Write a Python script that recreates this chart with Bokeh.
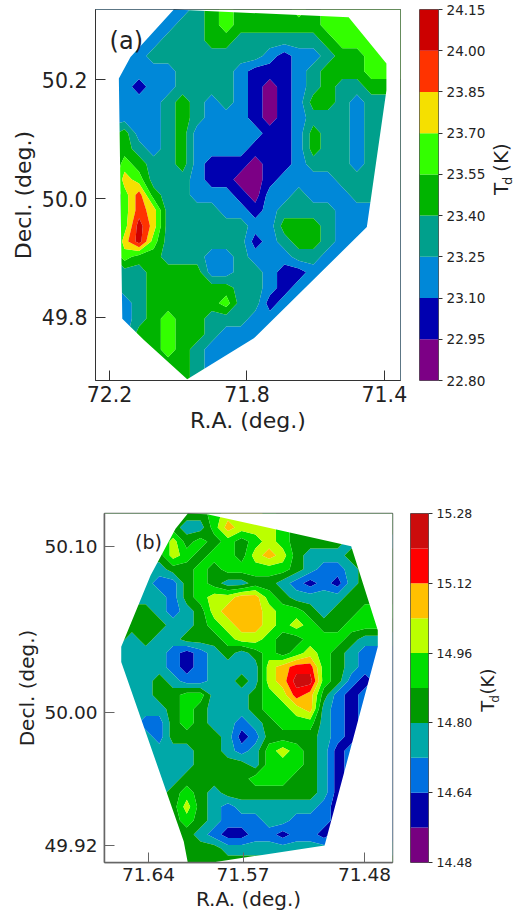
import numpy as np
from bokeh.plotting import figure
from bokeh.layouts import column, row
from bokeh.core.properties import value
from bokeh.models import FixedTicker, NumeralTickFormatter, Range1d, Label
from bokeh.embed import file_html
from bokeh.resources import INLINE

levels_a = [22.80, 22.95, 23.10, 23.25, 23.40, 23.55, 23.70, 23.85, 24.00, 24.15]
colors_a = ["#7c0085", "#0000b0", "#0088d8", "#00a08c", "#00b400", "#33ff00", "#f5e000", "#ff3300", "#cc0000"]
levels_b = [14.48, 14.56, 14.64, 14.72, 14.80, 14.88, 14.96, 15.04, 15.12, 15.20, 15.28]
colors_b = ["#770080", "#0000a8", "#0070e0", "#00a8a8", "#009900", "#00dd00", "#bbff00", "#ffc000", "#ff0000", "#cc0c0c"]

# temperature band at each map position, north to south, east to west
bands_a = [
    "2222222345444454555555",
    "2222223345444444555555",
    "2222233344333333455555",
    "2222333333332122344555",
    "2222223333211123444555",
    "2221223333210123433444",
    "2222234323210124432333",
    "2222234322210123332333",
    "3342234222221124332333",
    "3343234222211124332333",
    "3354334211101123332333",
    "3365333211001222233333",
    "3357433222102232223333",
    "3357633332212333322222",
    "3358633333322444322222",
    "3368533333312344322222",
    "3354433322322233222222",
    "2233444422332112222222",
    "2233444444332122222222",
    "2223444445331222222222",
    "2223454433322222222222",
    "2224454432222222222222",
    "2224454322222222222222",
    "2224444322222222222222",
    "2224444322222222222222",
]
bands_b = [
    "4444444456665444444444",
    "4444443357666544444444",
    "4444464545456544443333",
    "4444465455467643334444",
    "3333344545555543223444",
    "3333224543344321213444",
    "3333324566775433334444",
    "4444323467776554344555",
    "4444433456776565445554",
    "4434334445665445554333",
    "3333321234345456543222",
    "3333321233336788543222",
    "3333432233436799542122",
    "3333445533345687421222",
    "3333345433345567321222",
    "3332245433234555321222",
    "3333244443124444321222",
    "3333333443235654312222",
    "3333333444435554312222",
    "3333334444455544312222",
    "3333345434444444312222",
    "3333346432333333212222",
    "3333345432223322212222",
    "3333344321122122122222",
    "4444444443333333333333",
    "4444444444444444444444",
]

hull_ra_a = [72.013, 71.504, 71.394, 71.394, 71.451, 71.780, 71.974, 72.100, 72.163, 72.173, 72.139]
hull_dec_a = [50.318, 50.305, 50.227, 50.182, 49.952, 49.765, 49.696, 49.762, 49.798, 50.202, 50.238]
hull_ra_b = [71.6109, 71.5965, 71.4899, 71.4702, 71.4702, 71.5096, 71.5904, 71.6109, 71.6139, 71.6602, 71.6602, 71.6385, 71.6200]
hull_dec_b = [50.1200, 50.1196, 50.1003, 50.0497, 50.0397, 49.9201, 49.9101, 49.9097, 49.9225, 50.0306, 50.0397, 50.0827, 50.1108]

xticks_a = [72.2, 71.8, 71.4]
yticks_a = [49.8, 50.0, 50.2]
xticks_b = [71.64, 71.57, 71.48]
yticks_b = [49.92, 50.00, 50.10]
cbticks_b = [14.48, 14.64, 14.80, 14.96, 15.12, 15.28]

FONT = "DejaVu Sans"
INK = "#222222"


def band_grid(rows, levels):
    lv = np.array(levels)
    mid = (lv[:-1] + lv[1:]) / 2
    idx = np.array([[int(c) for c in r] for r in rows])
    return mid[idx]


def map_panel(rows, levels, colors, xr, yr, xticks, yticks, hull_x, hull_y, fmt, w, h, bl, br, bt, bb, tick_px, lab_px, xs, ys, edge, edge_w):
    p = figure(width=w, height=h, x_range=Range1d(*xr), y_range=Range1d(*yr), output_backend="svg",
               toolbar_location=None, min_border_left=bl, min_border_right=br, min_border_top=bt,
               min_border_bottom=bb, outline_line_color=edge, outline_line_width=edge_w)
    p.grid.visible = False
    z = band_grid(rows, levels)
    ny, nx = z.shape
    ra = np.linspace(xr[0], xr[1], nx)[::-1]
    dec = np.linspace(yr[0], yr[1], ny)
    p.contour(ra, dec, z[::-1, ::-1], levels, fill_color=colors, line_color=None)
    outer_x = [xr[0], xr[1], xr[1], xr[0]]
    outer_y = [yr[0], yr[0], yr[1], yr[1]]
    p.multi_polygons(xs=[[[outer_x, hull_x]]], ys=[[[outer_y, hull_y]]], fill_color="white", line_color=None)
    for ax, t, so in ((p.xaxis[0], xticks, xs), (p.yaxis[0], yticks, ys)):
        ax.ticker = FixedTicker(ticks=t)
        ax.formatter = NumeralTickFormatter(format=fmt)
        ax.minor_tick_line_color = None
        ax.major_tick_in = 10
        ax.major_tick_out = 0
        ax.major_tick_line_color = edge
        ax.axis_line_color = edge
        ax.axis_line_width = edge_w
        ax.major_label_text_font = FONT
        ax.major_label_text_font_size = tick_px
        ax.major_label_text_color = INK
        ax.axis_label_text_font = FONT
        ax.axis_label_text_font_style = "normal"
        ax.axis_label_text_font_size = lab_px
        ax.axis_label_text_color = INK
        ax.major_label_standoff = so
        ax.axis_label_standoff = 3
    p.xaxis[0].axis_label = "R.A. (deg.)"
    p.yaxis[0].axis_label = "Decl. (deg.)"
    return p


def colorbar_panel(levels, colors, ticks, w, h, bl, br, bt, bb, tick_px):
    p = figure(width=w, height=h, x_range=Range1d(0, 1), y_range=Range1d(levels[0], levels[-1]),
               output_backend="svg", toolbar_location=None, y_axis_location="right",
               min_border_left=bl, min_border_right=br, min_border_top=bt, min_border_bottom=bb,
               outline_line_color="#555555")
    p.grid.visible = False
    p.xaxis.visible = False
    p.quad(left=0, right=1, bottom=levels[:-1], top=levels[1:], fill_color=colors, line_color=None)
    ax = p.yaxis[0]
    ax.ticker = FixedTicker(ticks=ticks)
    ax.formatter = NumeralTickFormatter(format="0.00")
    ax.minor_tick_line_color = None
    ax.major_tick_in = 0
    ax.major_tick_out = 4
    ax.major_tick_line_color = "#333333"
    ax.axis_line_color = None
    ax.major_label_text_font = FONT
    ax.major_label_text_font_size = tick_px
    ax.major_label_text_color = INK
    ax.major_label_standoff = 4
    return p


def title_strip(w, h, parts):
    p = figure(width=w, height=h, x_range=Range1d(0, w), y_range=Range1d(0, h), output_backend="svg",
               toolbar_location=None, x_axis_location=None, y_axis_location=None, outline_line_color=None,
               min_border_left=0, min_border_right=0, min_border_top=0, min_border_bottom=0)
    p.grid.visible = False
    for txt, x, y, size in parts:
        p.text(x=[x], y=[y], text=[txt], angle=np.pi / 2, text_font=value(FONT), text_font_size=value(size),
               text_color=INK, text_align="left", text_baseline="middle")
    return p


pa = map_panel(bands_a, levels_a, colors_a, (72.241, 71.353), (49.694, 50.318), xticks_a, yticks_a,
               hull_ra_a, hull_dec_a, "0.0", 410, 450, 95, 10, 9, 70, "20.5px", "22px", 5, 8, "#333333", 1)
pa.add_layout(Label(x=72.2, y=50.265, text="(a)", text_font=FONT, text_font_size="24px", text_color=INK,
                    text_align="left", text_baseline="middle"))
ca = colorbar_panel(levels_a, colors_a, levels_a, 80, 450, 9, 52, 9, 70, "13.6px")
sa = title_strip(24, 450, [("T", 10, 225, "20px"), ("d", 17, 237, "13px"), ("(K)", 10, 253, "20px")])

pb = map_panel(bands_b, levels_b, colors_b, (71.6726, 71.4593), (49.9098, 50.12), xticks_b, yticks_b,
               hull_ra_b, hull_dec_b, "0.00", 402, 463, 104, 10, 63, 50, "18.5px", "20px", 5, 7, "#666666", 1.5)
pb.add_layout(Label(x=71.65, y=50.103, text="(b)", text_font=FONT, text_font_size="19px", text_color=INK,
                    text_align="left", text_baseline="middle"))
cb = colorbar_panel(levels_b, colors_b, cbticks_b, 74, 463, 8, 48, 63, 50, "12.5px")
sb = title_strip(38, 463, [("T", 11, 200, "18px"), ("d", 18, 212, "12px"), ("(K)", 11, 223, "18px")])

page = column(row(pa, ca, sa), row(pb, cb, sb))
open("out.html", "w").write(file_html(page, INLINE))
